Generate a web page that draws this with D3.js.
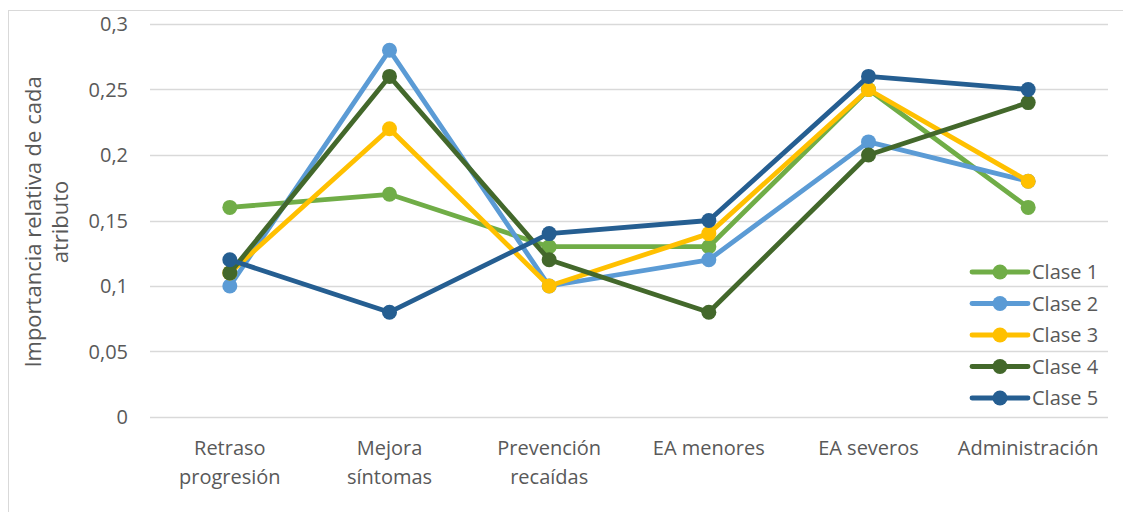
<!DOCTYPE html>
<html>
<head>
<meta charset="utf-8">
<script src="https://cdn.jsdelivr.net/npm/d3@7"></script>
<style>
  body { margin: 0; background: #fff; }
  text { font-family: "Open Sans", "Noto Sans", sans-serif; fill: #595959; }
</style>
</head>
<body>
<svg id="chart"></svg>
<script>
var W = 1123, H = 512;

// categories and series
var categories = ["Retraso progresión", "Mejora síntomas", "Prevención recaídas", "EA menores", "EA severos", "Administración"];
var seriesNames = ["Clase 1", "Clase 2", "Clase 3", "Clase 4", "Clase 5"];
var clase1 = [0.16, 0.17, 0.13, 0.13, 0.25, 0.16];
var clase2 = [0.10, 0.28, 0.10, 0.12, 0.21, 0.18];
var clase3 = [0.11, 0.22, 0.10, 0.14, 0.25, 0.18];
var clase4 = [0.11, 0.26, 0.12, 0.08, 0.20, 0.24];
var clase5 = [0.12, 0.08, 0.14, 0.15, 0.26, 0.25];
var yTicks = [0, 0.05, 0.1, 0.15, 0.2, 0.25, 0.3];
var colors = ["#70AD47", "#5B9BD5", "#FFC000", "#43682B", "#255E91"];

var allSeries = [clase1, clase2, clase3, clase4, clase5].map(function(v, i) {
  return { name: seriesNames[i], values: v, color: colors[i] };
});

var svg = d3.select("#chart").attr("width", W).attr("height", H);

// outer frame (only top/left are visible in the picture)
svg.append("rect")
  .attr("x", 8.5).attr("y", 10.5)
  .attr("width", W + 20).attr("height", H + 20)
  .attr("fill", "none").attr("stroke", "#d9d9d9").attr("stroke-width", 1);

var x = d3.scaleBand().domain(categories).range([150, 1108]);
var y = d3.scaleLinear().domain([0, 0.3]).range([417, 24]);

// gridlines
svg.append("g")
  .selectAll("line")
  .data(yTicks)
  .join("line")
    .attr("x1", 150).attr("x2", 1108)
    .attr("y1", d => Math.round(y(d)) + 0.5)
    .attr("y2", d => Math.round(y(d)) + 0.5)
    .attr("stroke", "#d9d9d9").attr("stroke-width", 1.3);

// y tick labels
svg.append("g")
  .selectAll("text")
  .data(yTicks)
  .join("text")
    .attr("x", 128)
    .attr("y", d => y(d))
    .attr("dy", "0.35em")
    .attr("text-anchor", "end")
    .attr("font-size", 20)
    .text(d => String(d).replace(".", ","));

// category labels (two lines)
var cat = svg.append("g")
  .selectAll("text")
  .data(categories)
  .join("text")
    .attr("x", d => x(d) + x.bandwidth() / 2)
    .attr("y", 455)
    .attr("text-anchor", "middle")
    .attr("font-size", 20);
cat.each(function(d) {
  var words = d.split(" ");
  var t = d3.select(this);
  if (d.indexOf("EA ") === 0) words = [d];
  words.forEach(function(w, i) {
    t.append("tspan")
      .attr("x", x(d) + x.bandwidth() / 2)
      .attr("dy", i === 0 ? 0 : 29)
      .text(w);
  });
});

// y axis title
var yt = svg.append("text")
  .attr("transform", "translate(41,222) rotate(-90)")
  .attr("text-anchor", "middle")
  .attr("font-size", 22);
yt.append("tspan").attr("x", 0).attr("dy", 0).text("Importancia relativa de cada");
yt.append("tspan").attr("x", 0).attr("dy", 27).text("atributo");

// lines and markers
var line = d3.line()
  .x((d, i) => x(categories[i]) + x.bandwidth() / 2)
  .y(d => y(d));

var g = svg.append("g")
  .selectAll("g")
  .data(allSeries)
  .join("g");

g.append("path")
  .attr("d", d => line(d.values))
  .attr("fill", "none")
  .attr("stroke", d => d.color)
  .attr("stroke-width", 4.8)
  .attr("stroke-linejoin", "round");

g.selectAll("circle")
  .data(d => d.values.map(v => ({ v: v, color: d.color })))
  .join("circle")
    .attr("cx", (d, i) => x(categories[i]) + x.bandwidth() / 2)
    .attr("cy", d => y(d.v))
    .attr("r", 7.5)
    .attr("fill", d => d.color);

// legend (transparent, gridlines show through)
var leg = svg.append("g")
  .selectAll("g")
  .data(allSeries)
  .join("g")
    .attr("transform", (d, i) => `translate(972,${272 + i * 31.5})`);

leg.append("line")
  .attr("x1", 0).attr("x2", 56)
  .attr("stroke", d => d.color)
  .attr("stroke-width", 4.8)
  .attr("stroke-linecap", "round");
leg.append("circle")
  .attr("cx", 28).attr("r", 7.5)
  .attr("fill", d => d.color);
leg.append("text")
  .attr("x", 60)
  .attr("dy", "0.35em")
  .attr("font-size", 20)
  .text(d => d.name);
</script>
</body>
</html>
